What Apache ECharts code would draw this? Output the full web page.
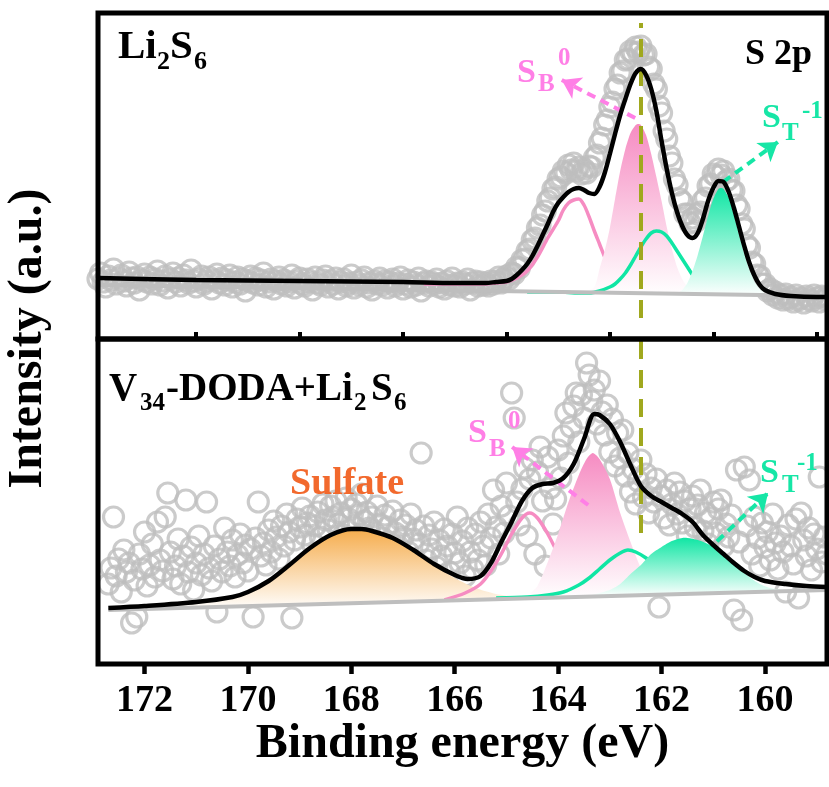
<!DOCTYPE html>
<html>
<head>
<meta charset="utf-8">
<script src="https://cdn.jsdelivr.net/npm/echarts@6.0.0/dist/echarts.min.js"></script>
<style>
  html, body { margin: 0; padding: 0; background: #fff; }
  #chart { width: 829px; height: 787px; }
</style>
</head>
<body>
<div id="chart"></div>
<script>
// ---------- S 2p spectra: Li2S6 (top) and V34-DODA+Li2S6 (bottom) ----------
const E_MIN = 158.8, E_MAX = 172.9;
const majorTicks = [160, 162, 164, 166, 168, 170, 172];
const minorTicks = [159, 161, 163, 165, 167, 169, 171];
const refPeak = 162.4;            // dashed reference line position (eV)

// Raw data, Li2S6: scan from 172.9 eV downwards in 0.05 eV steps
const topScanStart = 172.9, topScanStep = 0.05;
const topCounts = [
  60,66,57,52,63,59,70,55,61,64, 58,53,67,61,56,62,49,59,65,57,
  62,55,60,68,54,58,63,51,60,66, 57,61,53,64,59,56,69,58,52,60,
  63,55,58,62,50,59,65,56,61,54, 59,64,52,57,62,55,60,48,58,63,
  56,61,54,59,66,52,57,60,50,58, 62,55,59,53,57,64,51,58,61,55,
  53,60,57,49,62,56,54,59,63,52, 58,55,61,50,57,60,53,56,64,51,
  57,54,59,62,52,56,49,58,55,61, 54,58,51,57,60,53,56,62,50,55,
  59,52,57,54,61,48,56,58,53,57, 55,60,52,56,50,58,54,61,53,56,
  52,57,55,60,49,56,58,53,57,54, 56,53,58,55,
  58,62,56,60,63,60,66,65,72,71,79,80,88,90,99,101,111,114,124,128,
  138,141,150,152,160,162,168,166,174,169,176,168,172,165,170,166,173,172,181,184,
  196,201,214,219,232,237,250,254,266,268,279,280,288,286,292,287,293,284,285,272,
  270,255,250,233,226,208,200,183,176,160,154,140,137,125,125,116,121,117,125,127,
  138,141,153,155,165,163,170,164,168,158,160,149,148,134,130,115,110,94,91,77,
  75,64,63,55,55,48,50,44,47,41,44,39,45,40,42,37,44,39,41,36,
  43,40,38,44,41,37,43,40,42
];

// Fit, Li2S6
const topEnvelope = [[172.9,61],[171,59],[169,58],[167,57],[166,56],[165.4,56],[165.2,57],[165.0,58],[164.9,60],[164.8,64],[164.7,69],[164.6,75],[164.5,83],[164.4,93],[164.3,104],[164.2,115],[164.1,127],[164.0,136],[163.9,142],[163.8,147],[163.7,150],[163.6,151],[163.5,149],[163.4,146],[163.3,145],[163.2,152],[163.1,166],[163.0,185],[162.9,205],[162.8,224],[162.7,240],[162.6,255],[162.5,266],[162.4,270],[162.3,264],[162.2,250],[162.1,228],[162.0,198],[161.9,170],[161.8,146],[161.7,127],[161.6,113],[161.5,104],[161.4,101],[161.3,106],[161.2,120],[161.1,138],[161.0,151],[160.9,158],[160.8,157],[160.7,147],[160.6,131],[160.5,112],[160.4,93],[160.3,76],[160.2,63],[160.1,54],[160.0,49],[159.8,45],[159.5,43],[159.0,42],[158.8,42]];
const topSB2 = [[166.6,55],[166.0,55],[165.4,55],[165.2,56],[165.0,57],[164.8,61],[164.6,68],[164.4,82],[164.2,101],[164.0,118],[163.9,129],[163.8,136],[163.7,139],[163.6,140],[163.5,134],[163.4,122],[163.3,108],[163.2,95],[163.1,82],[163.0,70],[162.8,58],[162.6,50],[162.4,47]];
const topSB0 = [[163.5,46],[163.3,52],[163.2,70],[163.1,88],[163.0,111],[162.9,140],[162.8,168],[162.7,190],[162.6,206],[162.5,214],[162.45,215],[162.4,214],[162.3,204],[162.2,185],[162.1,162],[162.0,138],[161.9,112],[161.8,90],[161.7,72],[161.6,60],[161.5,52],[161.4,48],[161.3,44]];
const topST2 = [[164.6,47],[164.0,47],[163.6,46],[163.4,46],[163.2,48],[163.0,52],[162.9,55],[162.8,60],[162.7,66],[162.6,74],[162.5,83],[162.4,92],[162.3,100],[162.2,106],[162.1,108],[162.0,107],[161.9,103],[161.8,96],[161.7,88],[161.6,80],[161.5,72],[161.4,64],[161.3,58],[161.1,51],[160.8,46]];
const topST1 = [[161.7,44.5],[161.6,49],[161.5,56],[161.4,68],[161.3,84],[161.2,103],[161.1,123],[161.0,140],[160.9,150],[160.85,151],[160.8,150],[160.7,141],[160.6,124],[160.5,104],[160.4,85],[160.3,69],[160.2,57],[160.1,50],[160.0,46],[159.9,43]];
const topBackground = [[172.9,54],[158.8,43]];

// Raw data, V34-DODA+Li2S6: scan from 172.7 eV downwards in 0.05 eV steps
const botScanStart = 172.7, botScanStep = 0.05;
const botCounts = [
  80,96,147,88,105,72,114,92,101,41,84,47,110,95,132,78,99,120,87,142,
  104,93,147,171,112,85,98,125,80,108,164,92,117,74,101,128,89,110,162,96,
  83,118,52,105,92,136,112,98,124,87,109,130,101,119,93,115,47,126,162,108,
  121,99,134,112,143,127,105,138,118,150,132,46,124,145,137,156,129,141,148,120,
  138,152,127,160,144,134,158,147,163,140,151,129,166,145,155,138,160,149,170,143,
  152,136,147,131,158,140,126,149,137,122,153,131,118,144,127,139,112,150,125,134,
  120,211,138,104,129,115,142,97,124,108,135,118,92,130,111,147,101,123,88,136,
  112,95,130,104,142,118,99,150,126,174,137,110,158,131,181,148,271,246,162,139,
  175,196,128,185,204,110,192,217,163,98,207,176,140,165,214,186,228,251,201,237,
  258,271,222,269,246,301,289,263,274,240,283,252,229,259,212,245,198,231,206,234,
  188,211,172,195,160,183,204,167,190,151,176,162,185,57,168,146,174,139,160,181,
  150,172,141,163,128,155,168,137,159,174,133,151,120,146,162,131,155,164,118,140,
  127,149,54,194,122,44,197,138,184,110,147,126,98,141,117,132,104,150,121,95,
  128,112,72,139,118,100,145,66,151,124,108,136,94,130,115,187,102,127,110
];

// Fit, V34-DODA+Li2S6
const botEnvelope = [[172.7,56],[172.0,58],[171.0,62],[170.3,67],[170.0,72],[169.6,83],[169.2,99],[168.8,116],[168.4,129],[168.0,135],[167.8,135],[167.6,133],[167.2,126],[166.8,114],[166.4,100],[166.0,89],[165.75,85],[165.5,88],[165.3,101],[165.1,122],[164.9,142],[164.7,163],[164.5,176],[164.3,180],[164.1,181],[163.9,186],[163.7,200],[163.5,225],[163.3,250],[163.2,249],[163.0,240],[162.8,222],[162.6,199],[162.4,178],[162.2,168],[162.0,162],[161.8,156],[161.6,150],[161.4,142],[161.2,129],[161.0,119],[160.8,110],[160.6,101],[160.4,93],[160.2,87],[160.0,83],[159.6,80],[159.2,78],[158.8,77]];
const botSulfate = [[172.7,54],[172.0,58],[171.0,62],[170.3,67],[170.0,72],[169.6,83],[169.2,99],[168.8,116],[168.4,129],[168.0,135],[167.8,135],[167.6,133],[167.2,126],[166.8,113],[166.4,99],[166.0,86],[165.6,76],[165.2,70],[164.8,67],[164.4,66]];
const botSB2 = [[166.2,64],[165.8,71],[165.5,80],[165.3,93],[165.1,110],[164.9,130],[164.7,146],[164.55,151],[164.4,146],[164.2,130],[164.0,110],[163.8,92],[163.6,80],[163.4,73],[163.2,70]];
const botSB0 = [[164.6,65.6],[164.4,78],[164.2,102],[164.0,130],[163.8,162],[163.6,189],[163.45,205],[163.33,211],[163.2,205],[163.0,185],[162.8,151],[162.6,122],[162.4,96],[162.2,78],[162.0,70],[161.8,69.6]];
const botST2 = [[165.2,66],[164.6,67],[164.2,69],[163.9,72],[163.6,79],[163.4,86],[163.2,95],[163.0,104],[162.8,111],[162.65,114],[162.5,112],[162.3,106],[162.1,97],[161.9,88],[161.7,80],[161.5,75],[161.3,72],[161.0,71]];
const botST1 = [[163.4,67.4],[163.0,74],[162.8,80],[162.6,90],[162.4,99],[162.2,110],[162.0,117],[161.8,123],[161.6,126],[161.5,126],[161.3,124],[161.1,120],[160.9,113],[160.7,104],[160.5,95],[160.3,87],[160.1,80],[159.9,76],[159.6,74],[159.3,73.2]];
const botBackground = [[172.7,54],[158.8,74]];

// Annotation arrows: [from, to] in (eV, counts)
const topArrowSB = [[162.51,221],[163.93,259]];
const topArrowST = [[160.81,157],[159.75,197]];
const botArrowSB = [[163.42,159],[164.89,217]];
const botArrowST = [[161.35,102],[159.94,171]];

// ---------- styling ----------
const FONT = '"Liberation Serif", serif';
const C = {
  dots: '#BEBEBE', base: '#BEBEBE', fit: '#000000',
  pink: '#F68CC2', green: '#10E6A4', orange: '#F5AC4C',
  pinkText: '#FF7FE6', greenText: '#16E6A6', sulfate: '#F2692D', olive: '#A0A81E'
};
const PLOT = { left: 98, width: 729, top: 13, mid: 339, bottom: 664 };

function scan(start, step, counts) {
  return counts.map((v, i) => [+(start - i * step).toFixed(2), v]);
}

function dotSeries(ax, data) {
  return {
    type: 'scatter', xAxisIndex: ax, yAxisIndex: ax, z: 1, data,
    symbol: 'circle', symbolSize: 20, silent: true,
    itemStyle: { color: 'rgba(0,0,0,0)', borderColor: C.dots, borderWidth: 3.2 }
  };
}
function curve(ax, data, color, width, z, extra) {
  return Object.assign({
    type: 'line', xAxisIndex: ax, yAxisIndex: ax, z, data, smooth: 0.3,
    showSymbol: false, symbol: 'none', silent: true,
    lineStyle: { color, width }
  }, extra || {});
}
function filledPeak(ax, pts, color, z) {
  return {
    type: 'custom', xAxisIndex: ax, yAxisIndex: ax, z, silent: true,
    data: [pts[0]],
    renderItem: (params, api) => ({
      type: 'polygon',
      shape: { points: pts.map(p => api.coord(p)), smooth: 0.25 },
      style: {
        fill: new echarts.graphic.LinearGradient(0, 0, 0, 1, [
          { offset: 0, color }, { offset: 1, color: '#ffffff' }
        ])
      }
    })
  };
}
function arrow(seg, color) {
  return [
    { coord: seg[0], symbol: 'none', lineStyle: { color, width: 4, type: [9, 6] } },
    { coord: seg[1], symbol: 'arrow', symbolSize: 18 }
  ];
}
function refLine(v0, v1) {
  return [
    { coord: [refPeak, v0], symbol: 'none', lineStyle: { color: C.olive, width: 4, type: [18, 11] } },
    { coord: [refPeak, v1], symbol: 'none' }
  ];
}
function marks(list) {
  return { silent: true, animation: false, symbol: ['none', 'none'], label: { show: false }, data: list };
}

function txt(x, y, text, size, color) {
  return {
    type: 'text', x, y, z: 120, silent: true,
    style: {
      text, fill: color || '#000',
      fontFamily: FONT, fontSize: size, fontWeight: 'bold',
      align: 'left', verticalAlign: 'middle'
    }
  };
}

const xBase = { type: 'value', min: E_MIN, max: E_MAX, inverse: true, splitLine: { show: false } };

const option = {
  animation: false,
  backgroundColor: '#ffffff',
  textStyle: { fontFamily: FONT },
  grid: [
    { left: PLOT.left, top: PLOT.top, width: PLOT.width, height: PLOT.mid - PLOT.top },
    { left: PLOT.left, top: PLOT.mid, width: PLOT.width, height: PLOT.bottom - PLOT.mid }
  ],
  xAxis: [
    Object.assign({}, xBase, { gridIndex: 0, show: false }),
    Object.assign({}, xBase, {
      gridIndex: 1,
      axisLine: { show: false },
      axisTick: { show: true, customValues: majorTicks, length: 10, lineStyle: { color: '#000', width: 4.5 } },
      axisLabel: { customValues: majorTicks, margin: 18, color: '#000', fontSize: 38, fontWeight: 'bold', fontFamily: FONT },
      name: 'Binding energy (eV)', nameLocation: 'middle', nameGap: 53,
      nameTextStyle: { color: '#000', fontSize: 48, fontWeight: 'bold', fontFamily: FONT }
    }),
    Object.assign({}, xBase, {
      gridIndex: 1,
      axisLine: { show: false },
      axisTick: { show: true, customValues: minorTicks, length: 7, lineStyle: { color: '#000', width: 4 } },
      axisLabel: { show: false }
    })
  ],
  yAxis: [
    { type: 'value', gridIndex: 0, min: 0, max: PLOT.mid - PLOT.top, show: false },
    { type: 'value', gridIndex: 1, min: 0, max: PLOT.bottom - PLOT.mid, show: false }
  ],
  series: [
    // Li2S6
    dotSeries(0, scan(topScanStart, topScanStep, topCounts)),
    curve(0, topSB2, C.pink, 3.5, 2),
    filledPeak(0, topSB0, C.pink, 3),
    curve(0, topST2, C.green, 3.5, 4),
    filledPeak(0, topST1, C.green, 5),
    curve(0, topBackground, C.base, 4, 6, { smooth: false }),
    curve(0, topEnvelope, C.fit, 4.5, 7, {
      markLine: marks([refLine(21, 316), arrow(topArrowSB, C.pinkText), arrow(topArrowST, C.greenText)])
    }),
    // V34-DODA+Li2S6
    dotSeries(1, scan(botScanStart, botScanStep, botCounts)),
    filledPeak(1, botSulfate, C.orange, 2),
    curve(1, botSB2, C.pink, 3.5, 2),
    filledPeak(1, botSB0, C.pink, 3),
    curve(1, botST2, C.green, 3.5, 4),
    filledPeak(1, botST1, C.green, 5),
    curve(1, botBackground, C.base, 4, 6, { smooth: false }),
    curve(1, botEnvelope, C.fit, 4.5, 7, {
      markLine: marks([refLine(131, 324), arrow(botArrowSB, C.pinkText), arrow(botArrowST, C.greenText)])
    })
  ],
  graphic: [
    // panel frames
    { type: 'rect', z: 110, silent: true,
      shape: { x: PLOT.left, y: PLOT.top, width: PLOT.width, height: PLOT.mid - PLOT.top },
      style: { fill: 'none', stroke: '#000', lineWidth: 5 } },
    { type: 'rect', z: 110, silent: true,
      shape: { x: PLOT.left, y: PLOT.mid, width: PLOT.width, height: PLOT.bottom - PLOT.mid },
      style: { fill: 'none', stroke: '#000', lineWidth: 5 } },
    // y-axis title spanning both panels
    Object.assign(txt(29, (PLOT.top + PLOT.bottom) / 2, 'Intensity (a.u.)', 48), { rotation: Math.PI / 2 }),
    // top panel labels
    txt(118, 47.5, 'Li', 41), txt(157, 62, '2', 26), txt(170, 47.5, 'S', 41), txt(194, 62, '6', 26),
    txt(745, 55, 'S 2p', 36),
    txt(517, 73.5, 'S', 34, C.pinkText), txt(538, 85, 'B', 25, C.pinkText), txt(558, 58.5, '0', 25, C.pinkText),
    txt(762, 118.5, 'S', 34, C.greenText), txt(782, 134, 'T', 25, C.greenText), txt(802, 111.5, '-1', 25, C.greenText),
    // bottom panel labels
    txt(109, 389.5, 'V', 39), txt(140, 403.5, '34', 25), txt(166, 389.5, '-DODA+Li', 39),
    txt(354, 403.5, '2', 25), txt(371, 389.5, 'S', 39), txt(394, 403.5, '6', 25),
    txt(290, 484, 'Sulfate', 38, C.sulfate),
    txt(468, 433.5, 'S', 34, C.pinkText), txt(489, 450, 'B', 25, C.pinkText), txt(508, 421.5, '0', 25, C.pinkText),
    txt(760, 473.5, 'S', 34, C.greenText), txt(782, 486, 'T', 25, C.greenText), txt(797, 463.5, '-1', 25, C.greenText)
  ]
};
// the y-axis title is centred on its anchor
option.graphic[2].style.align = 'center';

const chart = echarts.init(document.getElementById('chart'), null, { renderer: 'canvas' });
chart.setOption(option);
</script>
</body>
</html>
